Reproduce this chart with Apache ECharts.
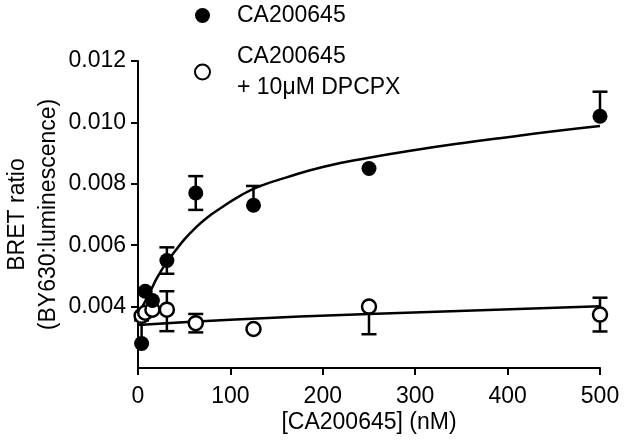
<!DOCTYPE html>
<html>
<head>
<meta charset="utf-8">
<script src="https://cdn.jsdelivr.net/npm/echarts@6/dist/echarts.min.js"></script>
<style>html,body{margin:0;padding:0;background:#fff}#c{width:624px;height:448px}</style>
</head>
<body>
<div id="c"></div>
<script>
// concentrations (nM)
var conc = [3.9, 7.8, 15.6, 31.25, 62.5, 125, 250, 500];
// CA200645 (filled)
var filledVals = [0.0028, 0.0045, 0.0042, 0.0055, 0.0077, 0.0073, 0.0085, 0.0102];
var filledErrUp = [0.00075, 0, 0, 0.00043, 0.00055, 0.00063, 0, 0.0008];
var filledErrDown = [0, 0, 0, 0.00043, 0.00055, 0, 0, 0];
// CA200645 + 10uM DPCPX (open)
var openVals = [0.0037, 0.0038, 0.0039, 0.0039, 0.00346, 0.00327, 0.0040, 0.00374];
var openErrUp = [0, 0, 0, 0.0006, 0.0003, 0, 0, 0.00055];
var openErrDown = [0, 0, 0, 0.0007, 0.0003, 0, 0.0009, 0.00055];
// fitted curves
var fitFilledX = [0, 5, 10, 15, 20, 30, 40, 50, 60, 75, 90, 110, 130, 160, 200, 250, 300, 350, 400, 450, 500];
var fitFilledY = [0.0036, 0.0040, 0.0043, 0.0046, 0.0049, 0.0054, 0.0058, 0.00618, 0.0065, 0.0069, 0.00722, 0.0076, 0.0079, 0.0082, 0.00855, 0.00885, 0.0091, 0.00932, 0.00952, 0.00971, 0.00988];
var fitOpenX = [0, 100, 250, 500];
var fitOpenY = [0.00340, 0.00357, 0.00376, 0.00401];
var xTicks = [0, 100, 200, 300, 400, 500];
var yTicks = [0.004, 0.006, 0.008, 0.010, 0.012];
var nameFilled = 'CA200645';
var nameOpen = 'CA200645\n+ 10\u03bcM DPCPX';

function zip(a, b) { return a.map(function (v, i) { return [v, b[i]]; }); }
function errData(vals, up, down) {
  return conc.map(function (c, i) { return [c, vals[i], up[i], down[i]]; });
}
function errRender(params, api) {
  var x = api.value(0), y = api.value(1), up = api.value(2), dn = api.value(3);
  if (!up && !dn) return null;
  var top = api.coord([x, y + up]);
  var bot = api.coord([x, y - dn]);
  var cw = 7.5;
  var st = { stroke: '#000', lineWidth: 2.5 };
  var ch = [{ type: 'line', shape: { x1: top[0], y1: top[1], x2: bot[0], y2: bot[1] }, style: st }];
  if (up) ch.push({ type: 'line', shape: { x1: top[0] - cw, y1: top[1], x2: top[0] + cw, y2: top[1] }, style: st });
  if (dn) ch.push({ type: 'line', shape: { x1: bot[0] - cw, y1: bot[1], x2: bot[0] + cw, y2: bot[1] }, style: st });
  return { type: 'group', children: ch };
}

var font = '"Liberation Sans", Arial, sans-serif';
var chart = echarts.init(document.getElementById('c'), null, { renderer: 'canvas' });
chart.setOption({
  animation: false,
  backgroundColor: '#fff',
  textStyle: { fontFamily: font, color: '#000' },
  grid: { left: 138, right: 24, top: 61, bottom: 80, containLabel: false, outerBoundsMode: 'none' },
  legend: {
    orient: 'vertical', left: 194, top: 0, padding: 0, itemGap: 10,
    itemWidth: 15, itemHeight: 15,
    data: [nameFilled, nameOpen],
    textStyle: { fontFamily: font, fontSize: 23, color: '#000', lineHeight: 31, padding: [0, 0, 0, 22] }
  },
  xAxis: {
    type: 'value', min: 0, max: 500, interval: 100,
    name: '[CA200645] (nM)', nameLocation: 'middle', nameGap: 43, nameMoveOverlap: false,
    nameTextStyle: { fontFamily: font, fontSize: 23, color: '#000' },
    axisLine: { lineStyle: { color: '#000', width: 2 } },
    axisTick: { show: true, length: 7, lineStyle: { color: '#000', width: 2 } },
    axisLabel: { fontFamily: font, fontSize: 23, color: '#000', margin: 17 },
    splitLine: { show: false }
  },
  yAxis: {
    type: 'value', min: 0.002, max: 0.012, interval: 0.002,
    name: 'BRET ratio\n(BY630:luminescence)', nameLocation: 'middle', nameGap: 74, nameRotate: 90,
    nameMoveOverlap: false,
    nameTextStyle: { fontFamily: font, fontSize: 23, color: '#000', lineHeight: 31 },
    axisLine: { show: true, lineStyle: { color: '#000', width: 2 } },
    axisTick: { show: true, length: 7, customValues: yTicks, lineStyle: { color: '#000', width: 2 } },
    axisLabel: {
      fontFamily: font, fontSize: 23, color: '#000', margin: 12, customValues: yTicks,
      formatter: function (v) { return v.toFixed(3); }
    },
    splitLine: { show: false }
  },
  series: [
    { type: 'line', data: zip(fitFilledX, fitFilledY), smooth: 0.5, showSymbol: false, silent: true,
      lineStyle: { color: '#000', width: 2.5 }, z: 2 },
    { type: 'line', data: zip(fitOpenX, fitOpenY), smooth: 0.5, showSymbol: false, silent: true,
      lineStyle: { color: '#000', width: 2.5 }, z: 2 },
    { type: 'custom', data: errData(filledVals, filledErrUp, filledErrDown), renderItem: errRender,
      encode: { x: 0, y: 1 }, z: 3 },
    { type: 'custom', data: errData(openVals, openErrUp, openErrDown), renderItem: errRender,
      encode: { x: 0, y: 1 }, z: 3 },
    { name: nameOpen, type: 'scatter', data: zip(conc, openVals), symbol: 'circle', symbolSize: 14,
      itemStyle: { color: '#fff', borderColor: '#000', borderWidth: 2.5, opacity: 1 }, z: 4 },
    { name: nameFilled, type: 'scatter', data: zip(conc, filledVals), symbol: 'circle', symbolSize: 15,
      itemStyle: { color: '#000', opacity: 1 }, z: 5 }
  ]
});
</script>
</body>
</html>
